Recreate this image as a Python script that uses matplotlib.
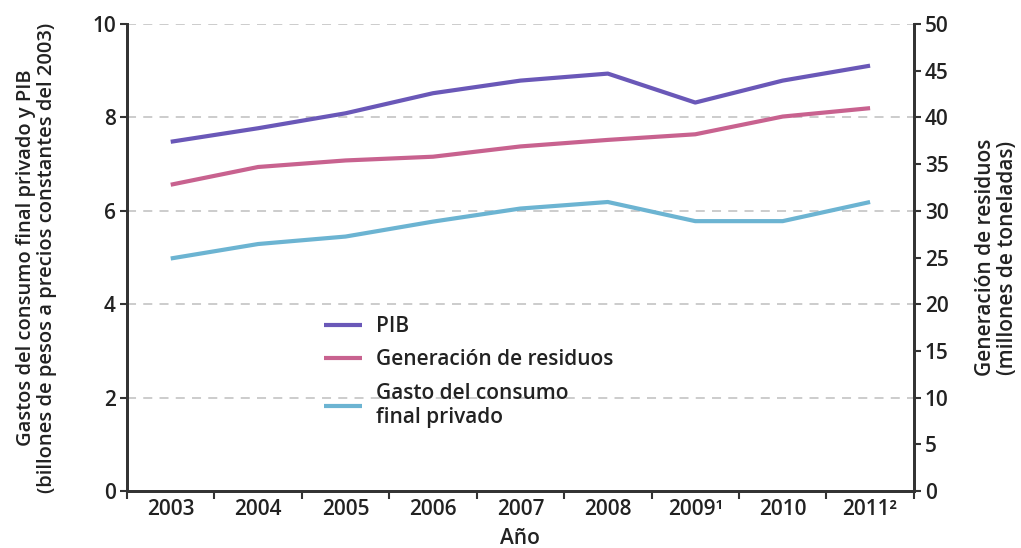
import numpy as np
import matplotlib.pyplot as plt

plt.rcParams["font.family"] = ["Open Sans", "DejaVu Sans"]
plt.rcParams["font.weight"] = 600

years = ["2003", "2004", "2005", "2006", "2007", "2008", "2009¹", "2010", "2011²"]
pib = [7.48, 7.77, 8.09, 8.52, 8.79, 8.94, 8.32, 8.79, 9.11]
residuos = [32.8, 34.7, 35.4, 35.8, 36.9, 37.6, 38.2, 40.1, 41.0]
gasto = [4.98, 5.29, 5.45, 5.77, 6.05, 6.19, 5.78, 5.78, 6.19]

c_pib = "#6a58b8"
c_res = "#c8628f"
c_gasto = "#6cb4d2"
txt = "#222222"

fig = plt.figure(figsize=(10.21, 5.48), dpi=100)
ax = fig.add_axes([0.1244, 0.104, 0.7706, 0.852])
ax2 = ax.twinx()

x = np.arange(len(years))
l1, = ax.plot(x, pib, color=c_pib, lw=3, solid_capstyle="butt")
l2, = ax2.plot(x, residuos, color=c_res, lw=3, solid_capstyle="butt")
l3, = ax.plot(x, gasto, color=c_gasto, lw=3, solid_capstyle="butt")

ax.set_xlim(-0.5, len(years) - 0.5)
ax.set_ylim(0, 10)
ax2.set_ylim(0, 50)

for yv in [2, 4, 6, 8, 10]:
    ax.axhline(yv, color="#c8c8c8", lw=1.3, ls=(0, (5, 4)), zorder=0)

ax.set_yticks([0, 2, 4, 6, 8, 10])
ax2.set_yticks(np.arange(0, 55, 5))
ax.set_xticks(np.arange(-0.5, len(years)), labels=[""] * (len(years) + 1))
ax.set_xticks(x, labels=years, minor=True)
ax.tick_params(axis="x", which="minor", length=0, pad=6)
ax.tick_params(axis="x", which="major", length=6, width=1.5, color="#333333")
ax.tick_params(axis="y", length=5, width=1.5, color="#333333", pad=3)
ax2.tick_params(axis="y", length=5, width=1.5, color="#333333", pad=3)
for a in (ax, ax2):
    a.tick_params(labelsize=15, labelcolor=txt, which="both")
    a.spines["top"].set_visible(False)
    for s in ("left", "right", "bottom"):
        a.spines[s].set_linewidth(2)
        a.spines[s].set_color("#333333")

ax.set_xlabel("Año", fontsize=15, color=txt, fontweight=600)
ax.xaxis.set_label_coords(0.5, -0.079)
ax.set_ylabel("Gastos del consumo final privado y PIB\n(billones de pesos a precios constantes del 2003)",
              fontsize=14.5, color=txt, linespacing=1.05, fontweight=600)
ax.yaxis.set_label_coords(-0.089, 0.5)
ax2.set_ylabel("Generación de residuos\n(millones de toneladas)",
               fontsize=15, color=txt, linespacing=1.05, fontweight=600)
ax2.yaxis.set_label_coords(1.078, 0.5)

ax.legend([l1, l2, l3], ["PIB", "Generación de residuos", "Gasto del consumo\nfinal privado"],
          loc="upper left", bbox_to_anchor=(0.226, 0.415), frameon=False,
          handlelength=1.85, handletextpad=0.65, labelspacing=0.6, labelcolor=txt,
          prop={"weight": 600, "size": 15})

fig.savefig("out.png", dpi=100)
